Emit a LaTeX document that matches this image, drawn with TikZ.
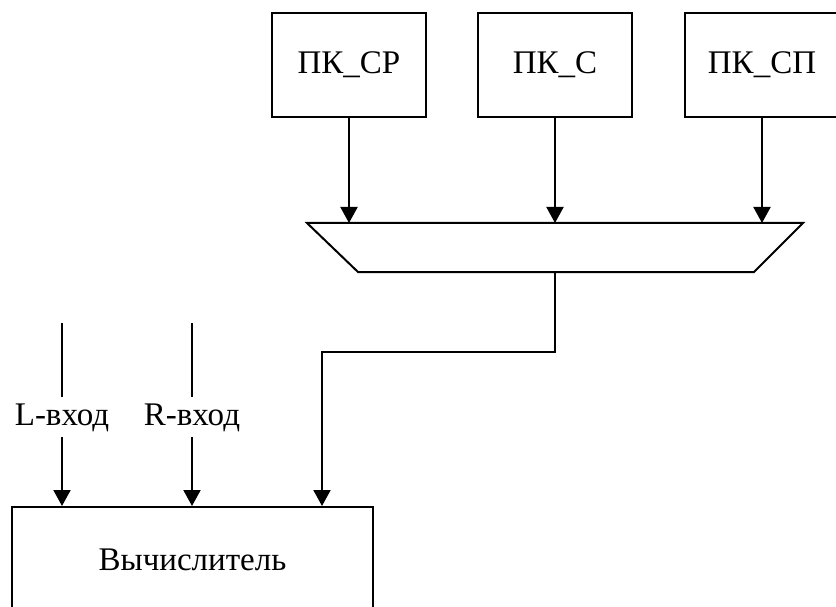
\documentclass[tikz,border=0pt]{standalone}
\usepackage{fontspec}
\setmainfont{Liberation Serif}
\usetikzlibrary{arrows.meta}
\begin{document}
\begin{tikzpicture}[x=1pt,y=-1pt,line width=2pt,
  txt/.style={font=\fontsize{33}{38}\selectfont},
  topbox/.style={draw,txt,minimum width=154pt,minimum height=104pt,inner sep=0pt},
  arr/.style={-{Triangle[width=17pt,length=16pt]}},
  lbl/.style={txt,anchor=base,text height=22pt,text depth=6pt,inner xsep=0pt,inner ysep=5pt}]
\useasboundingbox (0,0) rectangle (836,607);
% top boxes
\node[topbox] (pcsr) at (349,65) {ПК\_СР};
\node[topbox] (pcs)  at (555,65) {ПК\_С};
\node[topbox] (pcsp) at (762,65) {ПК\_СП};
% multiplexer (trapezoid)
\coordinate (mtl) at (307,223);
\coordinate (mtr) at (803,223);
\coordinate (mbr) at (754,272);
\coordinate (mbl) at (358,272);
\coordinate (mtop) at (555,223);
\coordinate (mout) at (555,272);
\draw[line join=miter] (mtl) -- (mtr) -- (mbr) -- (mbl) -- cycle;
\draw[arr] (pcsr.south) -- (pcsr.south |- mtop);
\draw[arr] (pcs.south) -- (pcs.south |- mtop);
\draw[arr] (pcsp.south) -- (pcsp.south |- mtop);
% calculator
\node[draw,txt,minimum width=361pt,minimum height=106pt,inner sep=0pt] (vyc) at (192.5,560) {Вычислитель};
% mux output to calculator
\coordinate (bend) at (322,352);
\draw[arr] (mout) |- (bend) -- (vyc.north -| bend);
% L and R inputs
\coordinate (ltop) at (62,323);
\coordinate (rtop) at (192,323);
\node[lbl] (llbl) at (62,425) {L-вход};
\node[lbl] (rlbl) at (192,425) {R-вход};
\draw (ltop) -- (llbl.north -| ltop);
\draw[arr] (llbl.south -| ltop) -- (vyc.north -| ltop);
\draw (rtop) -- (rlbl.north -| rtop);
\draw[arr] (rlbl.south -| rtop) -- (vyc.north -| rtop);
\end{tikzpicture}
\end{document}
